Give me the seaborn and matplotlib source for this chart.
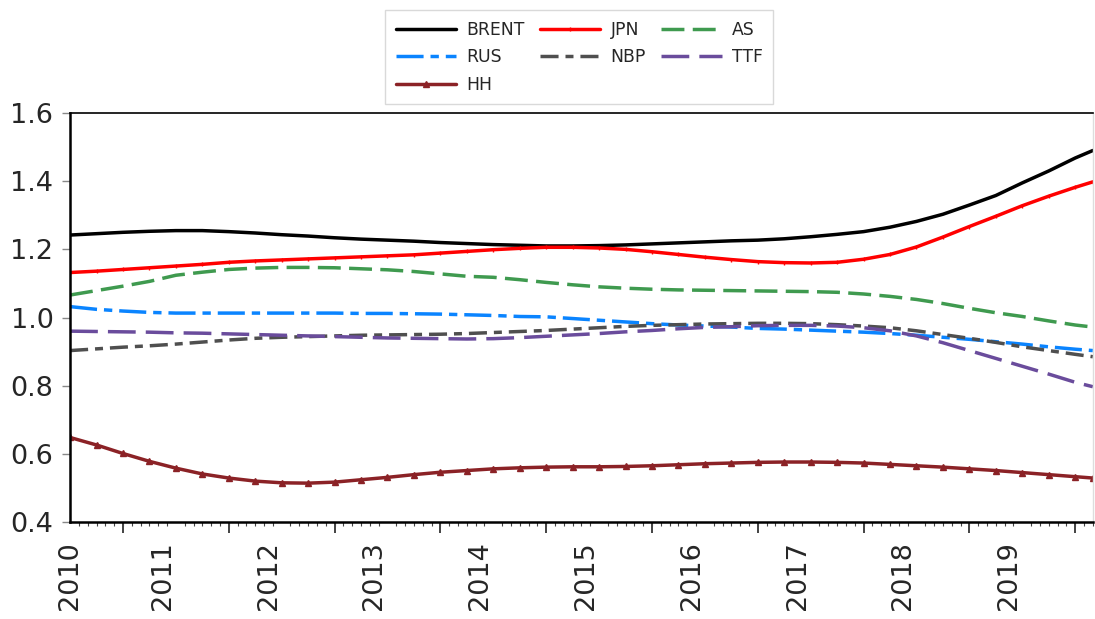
import numpy as np
import pandas as pd
import matplotlib
matplotlib.use('Agg')
import matplotlib.pyplot as plt
import seaborn as sns

# quarterly readings, 2010M01 .. 2019M07 plus the last month 2019M09
dates = list(pd.period_range('2010-01', '2019-07', freq='3M').strftime('%Y-%m')) + ['2019-09']

brent = [1.242, 1.246, 1.250, 1.253, 1.255, 1.255, 1.252, 1.248, 1.243, 1.239,
         1.234, 1.230, 1.227, 1.224, 1.220, 1.217, 1.214, 1.212, 1.210, 1.210,
         1.211, 1.213, 1.216, 1.219, 1.222, 1.225, 1.227, 1.231, 1.237, 1.244,
         1.252, 1.265, 1.282, 1.303, 1.330, 1.358, 1.395, 1.430, 1.468, 1.490]
jpn = [1.132, 1.136, 1.141, 1.146, 1.151, 1.156, 1.162, 1.166, 1.169, 1.172,
       1.175, 1.178, 1.181, 1.184, 1.189, 1.194, 1.199, 1.203, 1.206, 1.206,
       1.204, 1.200, 1.193, 1.185, 1.177, 1.170, 1.164, 1.161, 1.160, 1.162,
       1.171, 1.185, 1.207, 1.236, 1.267, 1.297, 1.328, 1.356, 1.382, 1.398]
as_ = [1.066, 1.079, 1.092, 1.106, 1.124, 1.133, 1.141, 1.145, 1.147, 1.147,
       1.146, 1.143, 1.140, 1.135, 1.128, 1.121, 1.118, 1.111, 1.103, 1.096,
       1.090, 1.086, 1.083, 1.081, 1.080, 1.079, 1.078, 1.077, 1.076, 1.074,
       1.069, 1.062, 1.053, 1.041, 1.027, 1.014, 1.003, 0.990, 0.978, 0.972]
rus = [1.032, 1.024, 1.019, 1.015, 1.013, 1.013, 1.013, 1.013, 1.013, 1.013,
       1.013, 1.012, 1.012, 1.011, 1.010, 1.008, 1.006, 1.003, 1.002, 0.997,
       0.992, 0.987, 0.982, 0.978, 0.975, 0.972, 0.968, 0.966, 0.963, 0.960,
       0.957, 0.953, 0.948, 0.942, 0.936, 0.929, 0.922, 0.914, 0.907, 0.903]
nbp = [0.903, 0.908, 0.913, 0.917, 0.922, 0.928, 0.934, 0.939, 0.942, 0.944,
       0.946, 0.948, 0.949, 0.950, 0.951, 0.953, 0.956, 0.959, 0.962, 0.966,
       0.970, 0.974, 0.977, 0.979, 0.981, 0.982, 0.983, 0.983, 0.982, 0.979,
       0.975, 0.970, 0.961, 0.950, 0.939, 0.927, 0.914, 0.903, 0.892, 0.885]
ttf = [0.960, 0.959, 0.958, 0.957, 0.955, 0.954, 0.952, 0.950, 0.948, 0.946,
       0.944, 0.942, 0.940, 0.939, 0.938, 0.937, 0.938, 0.941, 0.945, 0.949,
       0.953, 0.958, 0.962, 0.967, 0.971, 0.973, 0.976, 0.977, 0.977, 0.975,
       0.970, 0.961, 0.946, 0.926, 0.903, 0.880, 0.857, 0.834, 0.810, 0.797]
hh = [0.648, 0.626, 0.601, 0.578, 0.558, 0.541, 0.529, 0.520, 0.515, 0.514,
      0.517, 0.524, 0.531, 0.539, 0.546, 0.551, 0.556, 0.559, 0.561, 0.562,
      0.562, 0.563, 0.565, 0.568, 0.571, 0.573, 0.575, 0.576, 0.576, 0.575,
      0.573, 0.569, 0.565, 0.561, 0.556, 0.551, 0.545, 0.539, 0.533, 0.529]

years = list(range(2010, 2020))
yticks = [0.4, 0.6, 0.8, 1.0, 1.2, 1.4, 1.6]

# month index from 2010M01
per = pd.PeriodIndex(dates, freq='M')
x = np.array([(p - pd.Period('2010-01', 'M')).n for p in per])
last_m = x[-1]

sns.set_style('white')
plt.rcParams['font.family'] = ['DejaVu Sans']

fig = plt.figure(figsize=(10.95, 6.19), dpi=100)
ax = fig.add_axes([0.064, 0.1567, 0.934, 0.6607])

# name, values, colour, linestyle, marker
series = [
    ('BRENT', brent, '#000000', '-', None),
    ('JPN', jpn, '#ff0000', '-', '|'),
    ('AS', as_, '#3f9a4f', (0, (6.6, 2.4)), None),
    ('RUS', rus, '#0a84ff', (0, (7.8, 2.0, 2.4, 2.0)), None),
    ('NBP', nbp, '#4f4f4f', (0, (5.2, 2.0, 2.3, 2.0)), None),
    ('TTF', ttf, '#6a4c9c', (0, (8.0, 2.9)), None),
    ('HH', hh, '#8b2226', '-', '^'),
]
for name, vals, col, ls, mk in series:
    kw = {}
    if mk is not None:
        kw = dict(marker=mk, markersize=4 if mk == '^' else 3, markeredgewidth=1,
                  markeredgecolor=col, markerfacecolor=col)
    sns.lineplot(x=x, y=vals, ax=ax, color=col, lw=2.5, linestyle=ls,
                 label=name, legend=False, **kw)

ax.set_xlim(0, last_m)
ax.set_ylim(0.4, 1.6)
ax.set_yticks(yticks)
ax.set_yticklabels([f'{v:.1f}' for v in yticks])
ax.tick_params(axis='y', length=6, width=1, color='#888888', labelsize=19.5, pad=6, left=True)

# year labels at January, monthly minor ticks, long ticks at mid-year
ax.set_xticks([12 * (y - 2010) for y in years])
ax.set_xticklabels([str(y) for y in years], rotation=90)
for i, lab in enumerate(ax.get_xticklabels()):
    lab.set_ha('center' if i == 0 else 'right')
ax.set_xticks(np.arange(0, last_m + 1, 1), minor=True)
ax.tick_params(axis='x', which='major', length=0, labelsize=19.5, pad=14, bottom=True)
ax.tick_params(axis='x', which='minor', length=3, width=0.8, color='#444444', bottom=True)
sec = ax.secondary_xaxis('bottom')
sec.set_xticks([12 * (y - 2010) + 6 for y in years if 12 * (y - 2010) + 6 <= last_m])
sec.tick_params(length=8, width=1.2, color='#222222', labelbottom=False)
sec.spines['bottom'].set_visible(False)

ax.set_xlabel('')
ax.set_ylabel('')
for s in ['left', 'bottom', 'top']:
    ax.spines[s].set_color('black')
    ax.spines[s].set_linewidth(1.8)
ax.spines['top'].set_linewidth(1.2)
ax.spines['right'].set_color('#dddddd')
ax.spines['right'].set_linewidth(1.0)

h, l = ax.get_legend_handles_labels()
hd = dict(zip(l, h))
order = ['BRENT', 'RUS', 'HH', 'JPN', 'NBP', 'AS', 'TTF']
leg = fig.legend([hd[k] for k in order], order, loc='upper center',
                 bbox_to_anchor=(0.529, 0.997), ncol=3, fontsize=12.4,
                 frameon=True, fancybox=False, edgecolor='#d0d0d0',
                 handlelength=3.5, handletextpad=0.6, columnspacing=0.9,
                 labelspacing=0.55, borderpad=0.6)
leg.get_frame().set_linewidth(1.0)

fig.savefig('out.png', dpi=100)
